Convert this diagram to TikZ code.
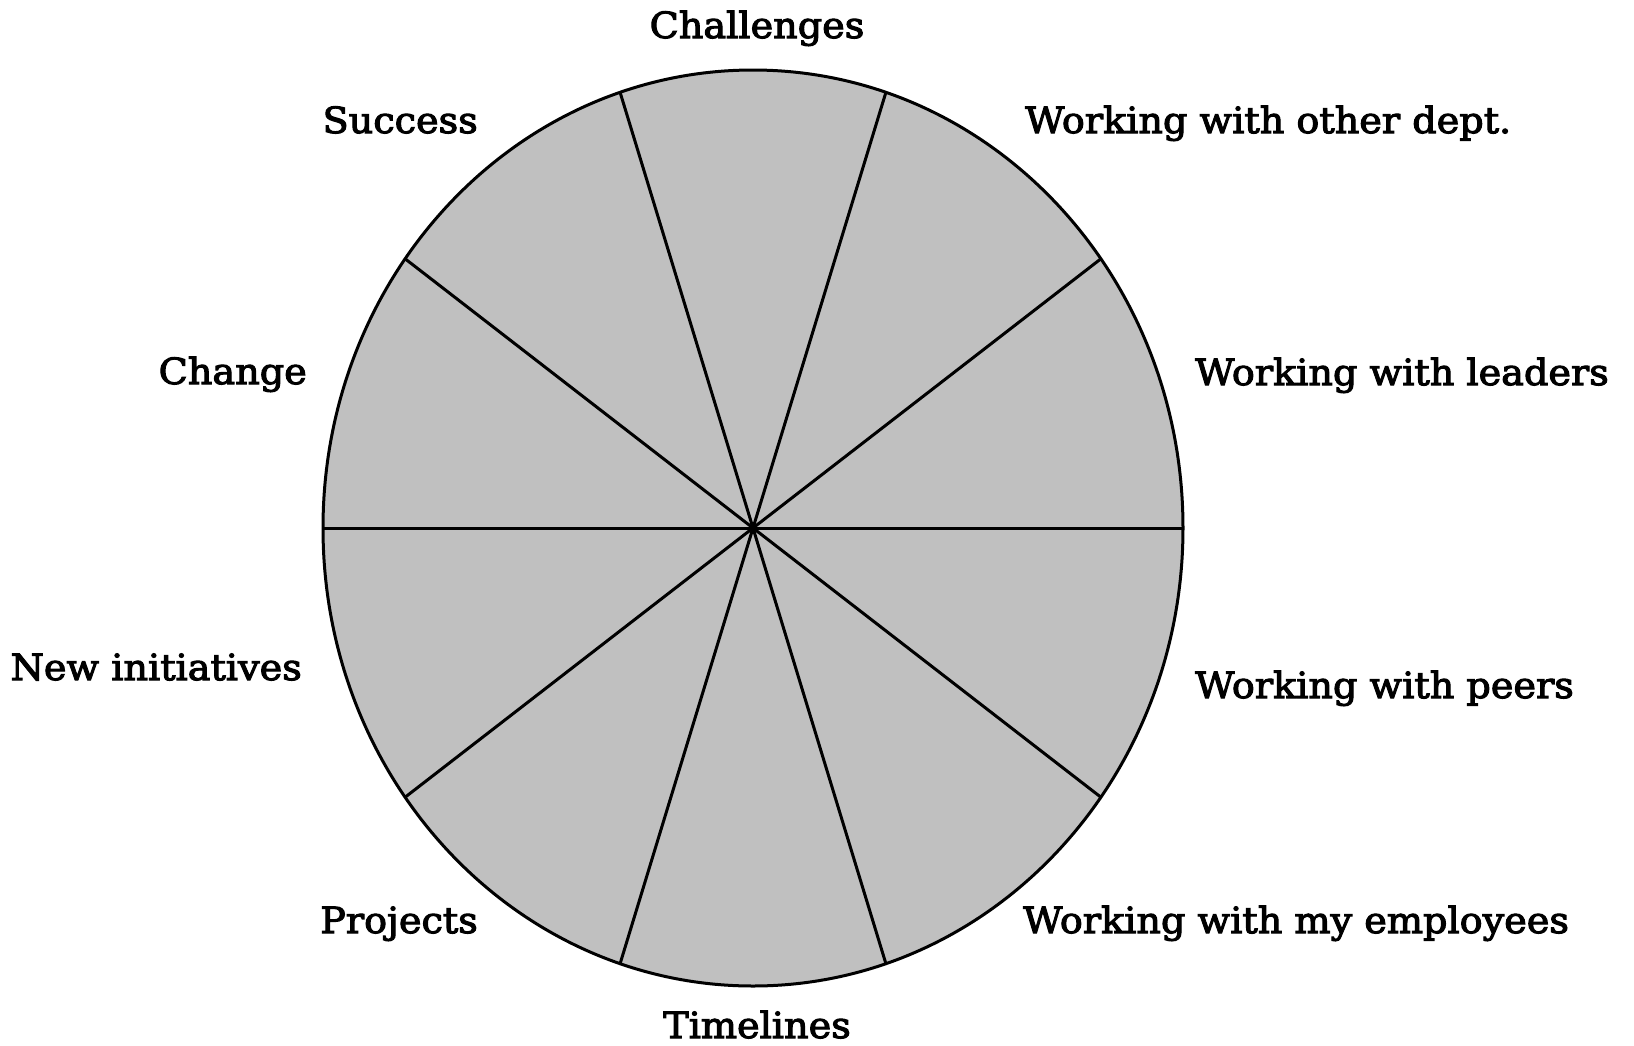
\documentclass[tikz,border=0pt]{standalone}
\usepackage{fontspec}
\setmainfont{DejaVu Serif}[FakeStretch=1.06,FakeBold=3]
\begin{document}
\begin{tikzpicture}[x=1pt,y=-1pt,
  lbl/.style={inner sep=0pt,font=\fontsize{36}{40}\selectfont},
  spoke/.style={draw=black,line width=3pt}]
\useasboundingbox (0,0) rectangle (1634,1045);
\coordinate (c) at (753,528);
\fill[fill={rgb,255:red,192;green,192;blue,192}] (c) ellipse [x radius=430, y radius=458];
\foreach \i in {0,...,9}{
  \coordinate (p\i) at ({753+430*cos(36*\i)},{528-458*sin(36*\i)});
  \draw[spoke] (c) -- (p\i);
}
\draw[spoke] (c) ellipse [x radius=430, y radius=458];
\node[lbl,anchor=base] (challenges) at (757,38) {Challenges};
\node[lbl,anchor=base east] (success) at (478,133) {Success};
\node[lbl,anchor=base west] (otherdept) at (1025,133) {Working with other dept.};
\node[lbl,anchor=base east] (change) at (307,384) {Change};
\node[lbl,anchor=base west] (leaders) at (1195,385) {Working with leaders};
\node[lbl,anchor=base east] (newinit) at (302,680) {New initiatives};
\node[lbl,anchor=base west] (peers) at (1195,698) {Working with peers};
\node[lbl,anchor=base east] (projects) at (478,933) {Projects};
\node[lbl,anchor=base west] (employees) at (1023,933) {Working with my employees};
\node[lbl,anchor=base] (timelines) at (757,1038) {Timelines};
\end{tikzpicture}
\end{document}
